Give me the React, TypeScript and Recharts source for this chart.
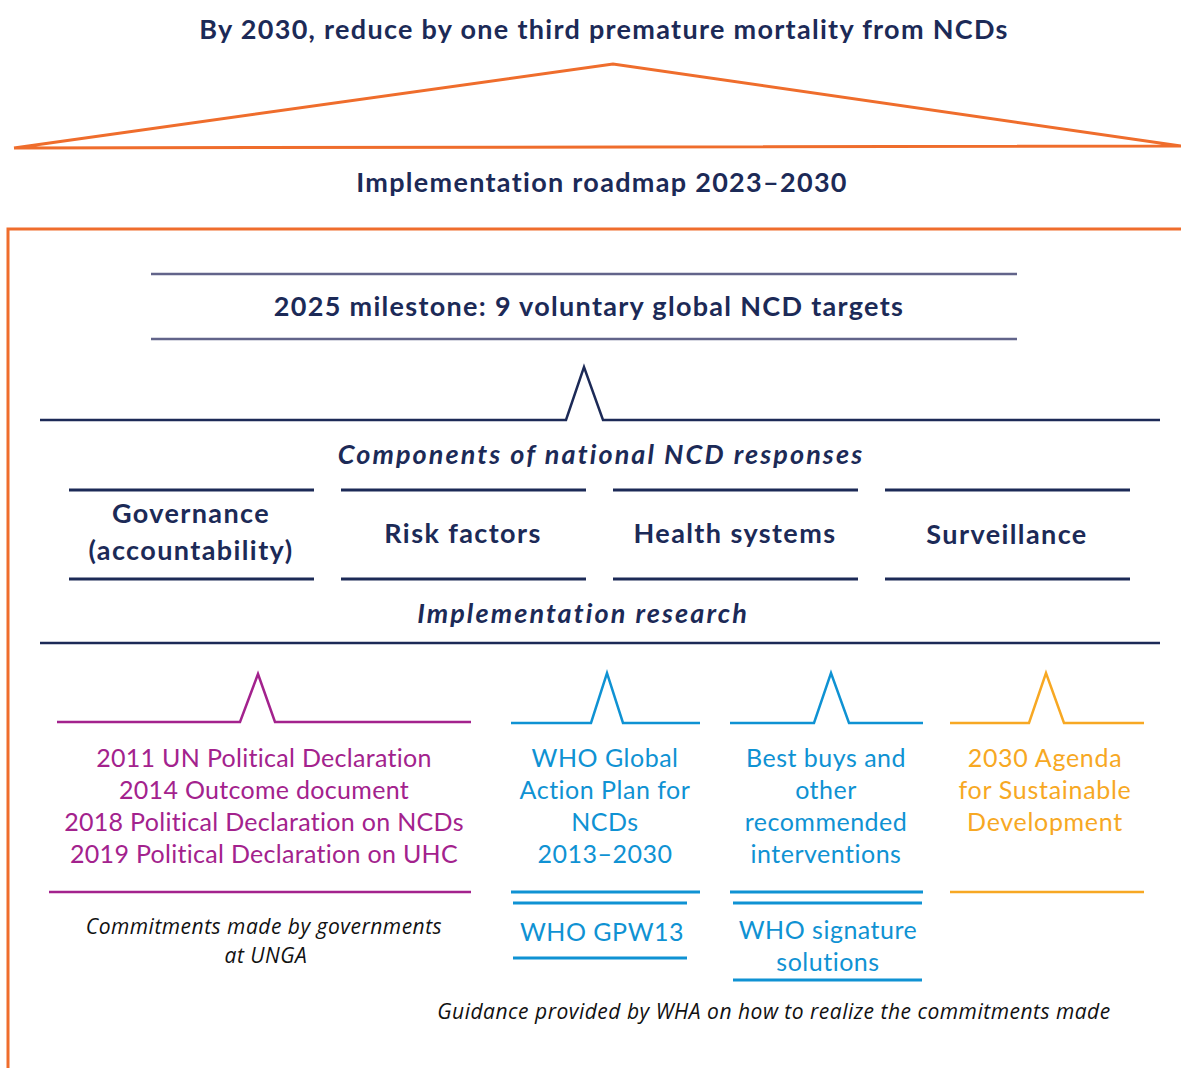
import React from "react";
import { ComposedChart, Line, Scatter, XAxis, YAxis } from "recharts";

type Pt = { x: number; y: number };
type Lbl = { x: number; y: number; text: string };

// ---- polylines (diagram coordinates) ----
const goalTriangle: Pt[] = [{ x: 14, y: 148 }, { x: 613, y: 64 }, { x: 1181, y: 146 }, { x: 14, y: 148 }];
const roadmapFrame: Pt[] = [{ x: 8, y: 1068 }, { x: 8, y: 229 }, { x: 1181, y: 229 }];
const milestoneTop: Pt[] = [{ x: 151, y: 274 }, { x: 1017, y: 274 }];
const milestoneBottom: Pt[] = [{ x: 151, y: 339 }, { x: 1017, y: 339 }];
const componentsPeak: Pt[] = [{ x: 40, y: 420 }, { x: 566, y: 420 }, { x: 584, y: 367 }, { x: 603, y: 420 }, { x: 1160, y: 420 }];
const columnStarts: number[] = [69, 341, 613, 885];
const columnWidth = 245;
const researchLine: Pt[] = [{ x: 40, y: 643 }, { x: 1160, y: 643 }];
const ungaPeak: Pt[] = [{ x: 57, y: 722 }, { x: 240, y: 722 }, { x: 258, y: 674 }, { x: 275, y: 722 }, { x: 471, y: 722 }];
const ungaBase: Pt[] = [{ x: 49, y: 892 }, { x: 471, y: 892 }];
const gapPeak: Pt[] = [{ x: 511, y: 723 }, { x: 591, y: 723 }, { x: 607, y: 673 }, { x: 623, y: 723 }, { x: 700, y: 723 }];
const gapBase: Pt[] = [{ x: 511, y: 892 }, { x: 700, y: 892 }];
const gpwTop: Pt[] = [{ x: 513, y: 903 }, { x: 687, y: 903 }];
const gpwBottom: Pt[] = [{ x: 513, y: 958 }, { x: 687, y: 958 }];
const buysPeak: Pt[] = [{ x: 730, y: 723 }, { x: 814, y: 723 }, { x: 831, y: 673 }, { x: 849, y: 723 }, { x: 923, y: 723 }];
const buysBase: Pt[] = [{ x: 730, y: 892 }, { x: 923, y: 892 }];
const sigTop: Pt[] = [{ x: 733, y: 903 }, { x: 922, y: 903 }];
const sigBottom: Pt[] = [{ x: 733, y: 980 }, { x: 922, y: 980 }];
const sdgPeak: Pt[] = [{ x: 950, y: 723 }, { x: 1029, y: 723 }, { x: 1046, y: 673 }, { x: 1064, y: 723 }, { x: 1144, y: 723 }];
const sdgBase: Pt[] = [{ x: 950, y: 892 }, { x: 1144, y: 892 }];

// ---- labels ----
const headingLabels: Lbl[] = [
  { x: 604, y: 28, text: "By 2030, reduce by one third premature mortality from NCDs" },
  { x: 602, y: 181, text: "Implementation roadmap 2023\u20132030" },
  { x: 589, y: 305, text: "2025 milestone: 9 voluntary global NCD targets" },
];
const sectionLabels: Lbl[] = [
  { x: 601, y: 453, text: "Components of national NCD responses" },
  { x: 583, y: 612, text: "Implementation research" },
];
const componentLabels: Lbl[] = [
  { x: 191, y: 512, text: "Governance" },
  { x: 191, y: 549, text: "(accountability)" },
  { x: 463, y: 532, text: "Risk factors" },
  { x: 735, y: 532, text: "Health systems" },
  { x: 1007, y: 533, text: "Surveillance" },
];
const ungaLabels: Lbl[] = [
  { x: 264, y: 757, text: "2011 UN Political Declaration" },
  { x: 264, y: 789, text: "2014 Outcome document" },
  { x: 264, y: 821, text: "2018 Political Declaration on NCDs" },
  { x: 264, y: 853, text: "2019 Political Declaration on UHC" },
];
const whaLabels: Lbl[] = [
  { x: 605, y: 757, text: "WHO Global" },
  { x: 605, y: 789, text: "Action Plan for" },
  { x: 605, y: 821, text: "NCDs" },
  { x: 605, y: 853, text: "2013\u20132030" },
  { x: 602, y: 931, text: "WHO GPW13" },
  { x: 826, y: 757, text: "Best buys and" },
  { x: 826, y: 789, text: "other" },
  { x: 826, y: 821, text: "recommended" },
  { x: 826, y: 853, text: "interventions" },
  { x: 828, y: 929, text: "WHO signature" },
  { x: 828, y: 961, text: "solutions" },
];
const sdgLabels: Lbl[] = [
  { x: 1045, y: 757, text: "2030 Agenda" },
  { x: 1045, y: 789, text: "for Sustainable" },
  { x: 1045, y: 821, text: "Development" },
];
const noteLabels: Lbl[] = [
  { x: 264, y: 926, text: "Commitments made by governments" },
  { x: 266, y: 955, text: "at UNGA" },
  { x: 774, y: 1011, text: "Guidance provided by WHA on how to realize the commitments made" },
];

const ORANGE = "#ef6d2c";
const NAVY = "#1c2a57";
const SLATE = "#62648a";
const MAGENTA = "#a3228d";
const BLUE = "#0f92d3";
const AMBER = "#f7a823";
const LATO = "Lato, 'Open Sans', sans-serif";
const OPEN = "'Open Sans', Lato, sans-serif";

const columnTops: Pt[][] = columnStarts.map((s) => [{ x: s, y: 490 }, { x: s + columnWidth, y: 490 }]);
const columnBottoms: Pt[][] = columnStarts.map((s) => [{ x: s, y: 579 }, { x: s + columnWidth, y: 579 }]);

const strokes: { data: Pt[]; color: string; w: number }[] = [
  { data: goalTriangle, color: ORANGE, w: 3 },
  { data: roadmapFrame, color: ORANGE, w: 3 },
  { data: milestoneTop, color: SLATE, w: 2.5 },
  { data: milestoneBottom, color: SLATE, w: 2.5 },
  { data: componentsPeak, color: NAVY, w: 2.5 },
  ...columnTops.map((d) => ({ data: d, color: NAVY, w: 3 })),
  ...columnBottoms.map((d) => ({ data: d, color: NAVY, w: 3 })),
  { data: researchLine, color: NAVY, w: 2.5 },
  { data: ungaPeak, color: MAGENTA, w: 2.5 },
  { data: ungaBase, color: MAGENTA, w: 2.5 },
  { data: gapPeak, color: BLUE, w: 2.5 },
  { data: gapBase, color: BLUE, w: 3 },
  { data: gpwTop, color: BLUE, w: 3 },
  { data: gpwBottom, color: BLUE, w: 3 },
  { data: buysPeak, color: BLUE, w: 2.5 },
  { data: buysBase, color: BLUE, w: 3 },
  { data: sigTop, color: BLUE, w: 3 },
  { data: sigBottom, color: BLUE, w: 3 },
  { data: sdgPeak, color: AMBER, w: 2.5 },
  { data: sdgBase, color: AMBER, w: 2.5 },
];

const textGroups: { data: Lbl[]; color: string; size: number; weight: number; italic: boolean; font: string; ls: number }[] = [
  { data: headingLabels, color: NAVY, size: 27, weight: 700, italic: false, font: LATO, ls: 1.3 },
  { data: sectionLabels, color: NAVY, size: 27, weight: 700, italic: true, font: LATO, ls: 2.1 },
  { data: componentLabels, color: NAVY, size: 27, weight: 700, italic: false, font: LATO, ls: 1.4 },
  { data: ungaLabels, color: MAGENTA, size: 25, weight: 400, italic: false, font: LATO, ls: 0.3 },
  { data: whaLabels, color: BLUE, size: 25, weight: 400, italic: false, font: LATO, ls: 0.5 },
  { data: sdgLabels, color: AMBER, size: 25, weight: 400, italic: false, font: LATO, ls: 0.7 },
  { data: noteLabels, color: "#111111", size: 21, weight: 400, italic: true, font: OPEN, ls: 0.5 },
];

const makeShape = (color: string, size: number, weight: number, italic: boolean, font: string, ls: number) => (props: any) => (
  <text
    x={props.cx}
    y={props.cy}
    textAnchor="middle"
    dominantBaseline="central"
    fill={color}
    fontSize={size}
    fontWeight={weight}
    fontStyle={italic ? "italic" : "normal"}
    fontFamily={font}
    letterSpacing={ls}
  >
    {props.payload.text}
  </text>
);

export default function App() {
  return (
    <div style={{ position: "absolute", left: 0, top: 0, background: "#fff" }}>
      <ComposedChart width={1181} height={1068} margin={{ top: 0, right: 0, bottom: 0, left: 0 }}>
        <XAxis type="number" dataKey="x" domain={[0, 1181]} allowDataOverflow hide />
        <YAxis type="number" dataKey="y" domain={[0, 1068]} allowDataOverflow reversed hide />
        {strokes.map((s, i) => (
          <Line
            key={"l" + i}
            data={s.data}
            dataKey="y"
            type="linear"
            stroke={s.color}
            strokeWidth={s.w}
            strokeLinejoin="miter"
            strokeLinecap="butt"
            dot={false}
            activeDot={false}
            isAnimationActive={false}
          />
        ))}
        {textGroups.map((g, i) => (
          <Scatter
            key={"t" + i}
            data={g.data}
            dataKey="y"
            shape={makeShape(g.color, g.size, g.weight, g.italic, g.font, g.ls)}
            isAnimationActive={false}
          />
        ))}
      </ComposedChart>
    </div>
  );
}
